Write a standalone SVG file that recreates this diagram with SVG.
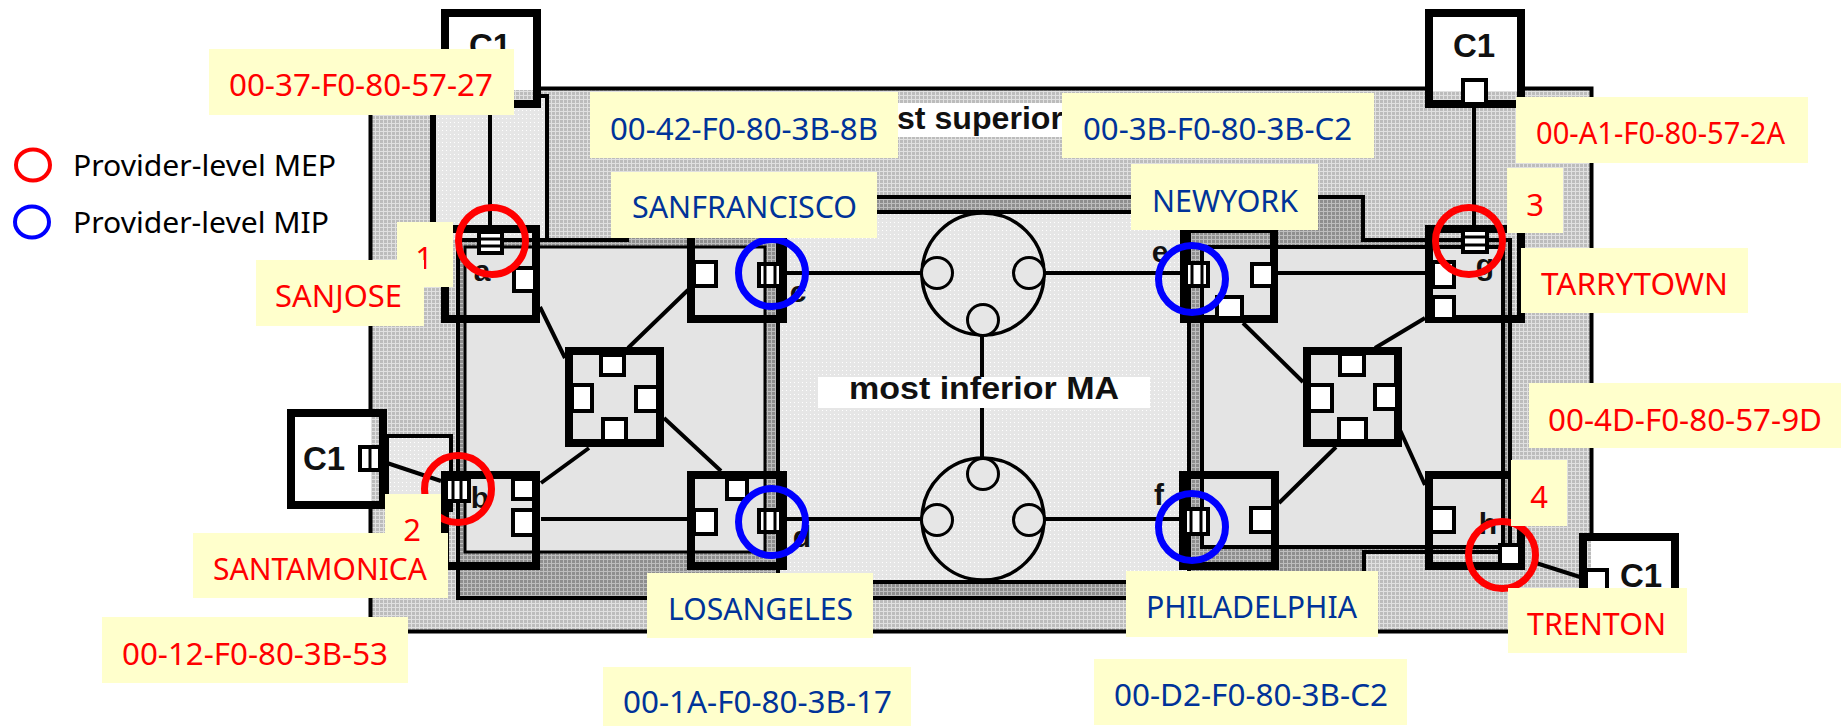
<svg xmlns="http://www.w3.org/2000/svg" width="1841" height="726" viewBox="0 0 1841 726">
<style>
.box{fill:none;stroke:#000;stroke-width:8}
.cust{fill:#fff;stroke:#000;stroke-width:8}
.port{fill:#fff;stroke:#000;stroke-width:4}
.stripe{fill:none;stroke:#000;stroke-width:3}
.conn{fill:none;stroke:#000;stroke-width:4}
.ring{fill:none;stroke:#000;stroke-width:3.5}
.sm{fill:#e6e6e6;stroke:#000;stroke-width:3}
.mep{fill:none;stroke:#f00;stroke-width:7}
.mip{fill:none;stroke:#00f;stroke-width:7}
.lab{fill:#ffc}
.t{font-family:"Noto Sans","Open Sans",sans-serif;font-size:31px}
.r{fill:#f00}
.b{fill:#039}
.leg{font-family:"Noto Sans","Open Sans",sans-serif;font-size:29.5px;fill:#000}
.f{font-family:"Liberation Sans",Arial,sans-serif;font-weight:bold;fill:#111}
.c1{font-size:33px;text-anchor:middle}
.l{font-size:30px;text-anchor:middle}
.ma{font-size:31px;text-anchor:middle}
</style>
<defs>
<pattern id="pOut" width="4" height="4" patternUnits="userSpaceOnUse"><rect width="4" height="4" fill="#bcbcbc"/><path d="M0 3.5H4M3.5 0V4" stroke="#e0e0e0" stroke-width="1"/></pattern>
<pattern id="pDark" width="4" height="4" patternUnits="userSpaceOnUse"><rect width="4" height="4" fill="#8e8e8e"/><path d="M0 3.5H4M3.5 0V4" stroke="#bdbdbd" stroke-width="1"/></pattern>
<pattern id="pLight" width="4" height="4" patternUnits="userSpaceOnUse"><rect width="4" height="4" fill="#e6e6e6"/><rect x="2" y="2" width="1" height="1" fill="#fff"/></pattern>
</defs>

<g id="regions">
<rect x="370.5" y="88.5" width="1221" height="543" fill="url(#pOut)" stroke="#000" stroke-width="4"/>
<path d="M433 96H547V240H433Z" fill="url(#pLight)"/>
<path d="M433 96V240" stroke="#000" stroke-width="6" fill="none"/>
<path d="M514 96H547V240" stroke="#000" stroke-width="4" fill="none"/>
<path d="M387 436H451V510H387Z" fill="url(#pLight)" stroke="#000" stroke-width="4"/>
<path d="M458 240H627V197H1363V240H1510V552H1364V598H458Z" fill="url(#pDark)" stroke="#000" stroke-width="4"/>
<rect x="465" y="247" width="300" height="305" fill="#e4e4e4" stroke="#000" stroke-width="3"/>
<rect x="778" y="212" width="411" height="370" fill="url(#pLight)" stroke="#000" stroke-width="4"/>
<rect x="1202" y="247" width="301" height="300" fill="#e4e4e4" stroke="#000" stroke-width="4"/>
</g>

<g id="connectors">
<path class="conn" d="M490 108V225M1474 108V225M540 307L565 358M688 290L628 348M589 448L541 483M664 418L721 471M541 519H687M787 273H921M1045 273H1180M787 519H921M1045 519H1180M982 336V378M982 408V457M1278 273H1425M1243 323L1303 382M1425 318L1375 348M1279 503L1336 447M1400 430L1425 485M387 463L441 481M1536 563L1580 577"/>
</g>

<g id="node-c1-top-left">
<rect class="cust" x="445" y="13" width="92" height="91"/>
<rect x="449" y="90" width="84" height="10" fill="url(#pOut)"/>
<text class="f c1" x="490" y="57">C1</text>
</g>
<g id="node-c1-top-right">
<rect class="cust" x="1429" y="13" width="92" height="91"/>
<rect x="1433" y="91" width="84" height="9" fill="url(#pOut)"/>
<rect class="port" x="1463" y="80" width="23" height="24"/>
<text class="f c1" x="1474" y="57">C1</text>
</g>
<g id="node-c1-left">
<rect class="cust" x="291" y="413" width="92" height="92"/>
<rect x="371" y="417" width="8" height="84" fill="url(#pOut)"/>
<rect class="port" x="360" y="447" width="20" height="23"/>
<path class="stripe" d="M370 447V470"/>
<text class="f c1" x="324" y="470">C1</text>
</g>
<g id="node-c1-right">
<rect class="cust" x="1583" y="537" width="92" height="92"/>
<rect x="1587" y="541" width="4" height="84" fill="url(#pOut)"/>
<rect class="port" x="1586" y="570" width="21" height="24"/>
<text class="f c1" x="1641" y="587">C1</text>
</g>

<g id="node-a">
<rect class="box" x="445" y="229" width="91" height="90"/>
<rect class="port" x="479" y="232" width="23" height="21"/>
<path class="stripe" d="M479 239H502M479 246H502"/>
<rect class="port" x="514" y="268" width="21" height="23"/>
<text class="f l" x="482" y="281">a</text>
</g>
<g id="node-b">
<rect class="box" x="445" y="475" width="91" height="91"/>
<rect class="port" x="446" y="479" width="23" height="22"/>
<path class="stripe" d="M453 479V501M461 479V501"/>
<rect class="port" x="513" y="479" width="21" height="20"/>
<rect class="port" x="513" y="510" width="21" height="25"/>
<text class="f l" x="480" y="508">b</text>
</g>
<g id="node-c">
<rect class="box" x="691" y="229" width="92" height="90"/>
<rect class="port" x="694" y="262" width="22" height="24"/>
<rect class="port" x="759" y="264" width="22" height="22"/>
<path class="stripe" d="M765 264V286M775 264V286"/>
<text class="f l" x="798" y="302">c</text>
</g>
<g id="node-d">
<rect class="box" x="691" y="475" width="92" height="91"/>
<rect class="port" x="727" y="479" width="20" height="20"/>
<rect class="port" x="694" y="510" width="22" height="24"/>
<rect class="port" x="759" y="510" width="22" height="22"/>
<path class="stripe" d="M765 510V532M775 510V532"/>
<text class="f l" x="802" y="547">d</text>
</g>
<g id="node-e">
<rect class="box" x="1184" y="229" width="90" height="90"/>
<rect class="port" x="1186" y="263" width="22" height="23"/>
<path class="stripe" d="M1192 263V286M1202 263V286"/>
<rect class="port" x="1252" y="264" width="21" height="22"/>
<rect class="port" x="1217" y="297" width="25" height="21"/>
<text class="f l" x="1160" y="262">e</text>
</g>
<g id="node-f">
<rect class="box" x="1183" y="475" width="92" height="91"/>
<rect class="port" x="1185" y="509" width="23" height="25"/>
<path class="stripe" d="M1191 509V534M1201 509V534"/>
<rect class="port" x="1251" y="508" width="22" height="24"/>
<text class="f l" x="1159" y="505">f</text>
</g>
<g id="node-g">
<rect class="box" x="1429" y="229" width="92" height="90"/>
<rect class="port" x="1463" y="230" width="24" height="22"/>
<path class="stripe" d="M1463 237H1487M1463 245H1487"/>
<rect class="port" x="1433" y="262" width="21" height="25"/>
<rect class="port" x="1433" y="297" width="21" height="22"/>
<text class="f l" x="1485" y="275">g</text>
</g>
<g id="node-h">
<rect class="box" x="1429" y="475" width="92" height="91"/>
<rect class="port" x="1431" y="508" width="23" height="24"/>
<rect class="port" x="1500" y="545" width="20" height="20"/>
<text class="f l" x="1488" y="534">h</text>
</g>
<g id="node-mid-left">
<rect class="box" x="569" y="351" width="91" height="92"/>
<rect class="port" x="601" y="355" width="23" height="20"/>
<rect class="port" x="572" y="385" width="20" height="26"/>
<rect class="port" x="636" y="387" width="22" height="24"/>
<rect class="port" x="603" y="419" width="23" height="22"/>
</g>
<g id="node-mid-right">
<rect class="box" x="1307" y="351" width="91" height="92"/>
<rect class="port" x="1340" y="354" width="24" height="21"/>
<rect class="port" x="1309" y="385" width="23" height="26"/>
<rect class="port" x="1375" y="385" width="22" height="24"/>
<rect class="port" x="1339" y="419" width="27" height="22"/>
</g>
<g id="node-ring-top">
<circle class="ring" cx="983" cy="274" r="61"/>
<circle class="sm" cx="937" cy="273" r="15.5"/>
<circle class="sm" cx="1029" cy="273" r="15.5"/>
<circle class="sm" cx="983" cy="320" r="15.5"/>
</g>
<g id="node-ring-bottom">
<circle class="ring" cx="983" cy="519" r="61"/>
<circle class="sm" cx="937" cy="520" r="15.5"/>
<circle class="sm" cx="1029" cy="520" r="15.5"/>
<circle class="sm" cx="983" cy="474" r="15.5"/>
</g>

<g id="ma-labels">
<rect x="818" y="377" width="332" height="31" fill="#fff"/>
<text class="f ma" x="984" y="399" textLength="270" lengthAdjust="spacingAndGlyphs">most inferior MA</text>
<rect x="850" y="103" width="260" height="34" fill="#fff"/>
<text class="f ma" x="980" y="129" textLength="166" lengthAdjust="spacingAndGlyphs">st superior</text>
</g>

<g id="points">
<circle class="mep" cx="492" cy="241" r="33.5"/>
<circle class="mep" cx="458" cy="489" r="33.5"/>
<circle class="mep" cx="1469" cy="241" r="33.5"/>
<circle class="mep" cx="1502" cy="555" r="33.5"/>
<circle class="mip" cx="772" cy="273" r="33.5"/>
<circle class="mip" cx="772" cy="522" r="33.5"/>
<circle class="mip" cx="1192" cy="279" r="33.5"/>
<circle class="mip" cx="1192" cy="527" r="33.5"/>
</g>

<g id="legend">
<ellipse cx="33" cy="165" rx="17" ry="15.5" fill="none" stroke="#f00" stroke-width="4"/>
<ellipse cx="32" cy="222" rx="17" ry="15.5" fill="none" stroke="#00f" stroke-width="4"/>
<text class="leg" x="73" y="176" textLength="263" lengthAdjust="spacingAndGlyphs">Provider-level MEP</text>
<text class="leg" x="73" y="233" textLength="256" lengthAdjust="spacingAndGlyphs">Provider-level MIP</text>
</g>

<g id="label-37"><rect class="lab" x="209" y="49" width="305" height="66"/><text class="t r" x="229" y="96" textLength="264" lengthAdjust="spacingAndGlyphs">00-37-F0-80-57-27</text></g>
<g id="label-42"><rect class="lab" x="590" y="92" width="308" height="66"/><text class="t b" x="610" y="140" textLength="268" lengthAdjust="spacingAndGlyphs">00-42-F0-80-3B-8B</text></g>
<g id="label-sf"><rect class="lab" x="611" y="172" width="266" height="66"/><text class="t b" x="632" y="218" textLength="225" lengthAdjust="spacingAndGlyphs">SANFRANCISCO</text></g>
<g id="label-3b"><rect class="lab" x="1062" y="93" width="312" height="65"/><text class="t b" x="1083" y="140" textLength="269" lengthAdjust="spacingAndGlyphs">00-3B-F0-80-3B-C2</text></g>
<g id="label-ny"><rect class="lab" x="1131" y="164" width="187" height="66"/><text class="t b" x="1152" y="212" textLength="146" lengthAdjust="spacingAndGlyphs">NEWYORK</text></g>
<g id="label-a1"><rect class="lab" x="1516" y="97" width="292" height="66"/><text class="t r" x="1536" y="144" textLength="249" lengthAdjust="spacingAndGlyphs">00-A1-F0-80-57-2A</text></g>
<g id="label-3"><rect class="lab" x="1507" y="168" width="56" height="65"/><text class="t r" x="1535" y="216" text-anchor="middle">3</text></g>
<g id="label-tarry"><rect class="lab" x="1521" y="248" width="227" height="65"/><text class="t r" x="1541" y="295" textLength="187" lengthAdjust="spacingAndGlyphs">TARRYTOWN</text></g>
<g id="label-4d"><rect class="lab" x="1529" y="383" width="312" height="65"/><text class="t r" x="1548" y="431" textLength="274" lengthAdjust="spacingAndGlyphs">00-4D-F0-80-57-9D</text></g>
<g id="label-4"><rect class="lab" x="1511" y="460" width="56" height="66"/><text class="t r" x="1539" y="508" text-anchor="middle">4</text></g>
<g id="label-trenton"><rect class="lab" x="1508" y="588" width="179" height="65"/><text class="t r" x="1527" y="635" textLength="139" lengthAdjust="spacingAndGlyphs">TRENTON</text></g>
<g id="label-phila"><rect class="lab" x="1126" y="571" width="252" height="66"/><text class="t b" x="1146" y="618" textLength="211" lengthAdjust="spacingAndGlyphs">PHILADELPHIA</text></g>
<g id="label-d2"><rect class="lab" x="1094" y="659" width="313" height="66"/><text class="t b" x="1114" y="706" textLength="274" lengthAdjust="spacingAndGlyphs">00-D2-F0-80-3B-C2</text></g>
<g id="label-1a"><rect class="lab" x="603" y="667" width="308" height="59"/><text class="t b" x="623" y="713" textLength="269" lengthAdjust="spacingAndGlyphs">00-1A-F0-80-3B-17</text></g>
<g id="label-la"><rect class="lab" x="647" y="573" width="226" height="65"/><text class="t b" x="668" y="620" textLength="185" lengthAdjust="spacingAndGlyphs">LOSANGELES</text></g>
<g id="label-12"><rect class="lab" x="102" y="617" width="306" height="66"/><text class="t r" x="122" y="665" textLength="266" lengthAdjust="spacingAndGlyphs">00-12-F0-80-3B-53</text></g>
<g id="label-sm"><rect class="lab" x="193" y="533" width="255" height="65"/><text class="t r" x="213" y="580" textLength="214" lengthAdjust="spacingAndGlyphs">SANTAMONICA</text></g>
<g id="label-2"><rect class="lab" x="385" y="494" width="56" height="39"/><text class="t r" x="412" y="541" text-anchor="middle">2</text></g>
<g id="label-1"><rect class="lab" x="397" y="222" width="56" height="65"/><text class="t r" x="424" y="269" text-anchor="middle">1</text></g>
<g id="label-sj"><rect class="lab" x="256" y="260" width="168" height="66"/><text class="t r" x="275" y="307" textLength="127" lengthAdjust="spacingAndGlyphs">SANJOSE</text></g>
</svg>
